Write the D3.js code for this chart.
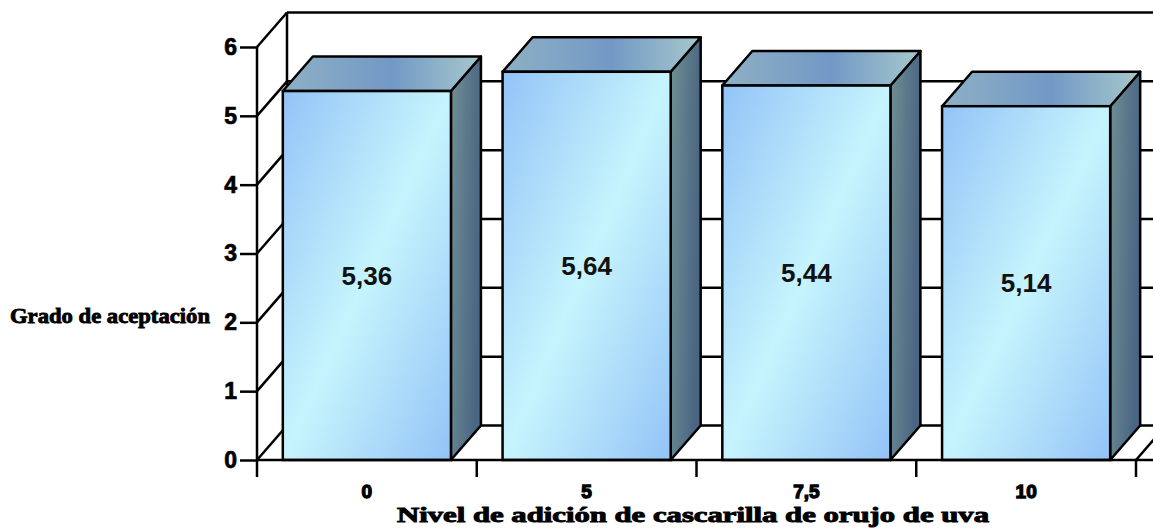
<!DOCTYPE html>
<html>
<head>
<meta charset="utf-8">
<script src="https://cdn.jsdelivr.net/npm/d3@7/dist/d3.min.js"></script>
<style>
  html, body { margin: 0; padding: 0; background: #fff; }
  svg { display: block; }
</style>
</head>
<body>
<svg id="chart" width="1153" height="529"></svg>
<script>
// Acceptance score by grape-pomace husk addition level
const categories = ["0", "5", "7,5", "10"];
const values = [5.36, 5.64, 5.44, 5.14];
const valueLabels = ["5,36", "5,64", "5,44", "5,14"];
const yTicks = [0, 1, 2, 3, 4, 5, 6];
const xTitle = "Nivel de adición de cascarilla de orujo de uva";
const yTitle = "Grado de aceptación";

const W = 1153, H = 529;
const svg = d3.select("#chart");

// 3D depth offset of the back wall
const DX = 30, DY = -34.5;
const left = 257, right = 1136;

const y = d3.scaleLinear().domain([0, 6]).range([460, 47]);
const x = d3.scaleBand().domain(categories).range([left, right])
  .paddingInner(0.235).paddingOuter(0.1175);
const slot = d3.scaleBand().domain(categories).range([left, right]).padding(0);

const defs = svg.append("defs");
function grad(id, x2, y2, stops) {
  const g = defs.append("linearGradient").attr("id", id)
    .attr("x1", 0).attr("y1", 0).attr("x2", x2).attr("y2", y2);
  stops.forEach(([o, c]) => g.append("stop").attr("offset", o).attr("stop-color", c));
}
grad("front", 1, 1, [[0, "#93c3f7"], [0.5, "#c6f4fd"], [1, "#93c3f7"]]);
grad("top", 1, 0, [[0, "#8eb0c4"], [0.55, "#7299c6"], [1, "#a6c8cb"]]);
grad("side", 1, 0.3, [[0, "#6f8f93"], [1, "#4a6483"]]);

const line = (x1, y1, x2, y2, w) => svg.append("line")
  .attr("x1", x1).attr("y1", y1).attr("x2", x2).attr("y2", y2)
  .attr("stroke", "#000").attr("stroke-width", w || 2.5);

// back wall: gridlines and left edge
const grid = svg.append("g");
yTicks.forEach(v => {
  grid.append("line").attr("x1", left + DX).attr("x2", W)
    .attr("y1", y(v) + DY).attr("y2", y(v) + DY)
    .attr("stroke", "#000").attr("stroke-width", 2.5);
  // side wall diagonals
  grid.append("line").attr("x1", left).attr("y1", y(v))
    .attr("x2", left + DX).attr("y2", y(v) + DY)
    .attr("stroke", "#000").attr("stroke-width", 2.5);
});
line(left + DX, y(6) + DY, left + DX, y(0) + DY);
// floor right edge
line(right, y(0), right + DX, y(0) + DY);

// bars
const bars = svg.append("g").selectAll("g").data(values).join("g");
bars.each(function (v, i) {
  const g = d3.select(this);
  const x0 = x(categories[i]), x1 = x0 + x.bandwidth();
  const yt = y(v), yb = y(0);
  g.append("path")
    .attr("d", `M${x1},${yt}L${x1 + DX},${yt + DY}L${x1 + DX},${yb + DY}L${x1},${yb}Z`)
    .attr("fill", "url(#side)").attr("stroke", "#000").attr("stroke-width", 2.5)
    .attr("stroke-linejoin", "round");
  g.append("path")
    .attr("d", `M${x0},${yt}L${x0 + DX},${yt + DY}L${x1 + DX},${yt + DY}L${x1},${yt}Z`)
    .attr("fill", "url(#top)").attr("stroke", "#000").attr("stroke-width", 2.5)
    .attr("stroke-linejoin", "round");
  g.append("rect")
    .attr("x", x0).attr("y", yt).attr("width", x1 - x0).attr("height", yb - yt)
    .attr("fill", "url(#front)").attr("stroke", "#000").attr("stroke-width", 2.5);
  g.append("text")
    .attr("x", (x0 + x1) / 2).attr("y", (yt + yb) / 2).attr("dy", "0.36em")
    .attr("text-anchor", "middle")
    .style("font-family", "'Liberation Sans', Arial, sans-serif")
    .style("font-weight", "bold").style("font-size", "26px")
    .attr("fill", "#111")
    .text(valueLabels[i]);
});

// front axes
const yAxis = svg.append("g").attr("transform", `translate(${left},0)`)
  .call(d3.axisLeft(y).tickValues(yTicks).tickSize(17).tickPadding(3).tickFormat(d3.format("d")));
const xAxis = svg.append("g").attr("transform", `translate(0,${y(0)})`)
  .call(d3.axisBottom(slot).tickSize(0).tickPadding(0));
[yAxis, xAxis].forEach(a => {
  a.select(".domain").remove();
  a.selectAll("line").attr("stroke", "#000").attr("stroke-width", 2.5);
});
yAxis.attr("font-size", 23).attr("font-family", "'Liberation Sans', Arial, sans-serif");
yAxis.selectAll("text")
  .attr("font-weight", "bold")
  .attr("fill", "#000").attr("stroke", "#000").attr("stroke-width", 0.7);
xAxis.attr("font-size", 19).attr("font-family", "'Liberation Sans', Arial, sans-serif");
xAxis.selectAll("text")
  .attr("y", 38).attr("dy", null)
  .attr("font-weight", "bold")
  .attr("fill", "#000").attr("stroke", "#000").attr("stroke-width", 1.3);

line(left, y(6), left, y(0));
line(left, y(0), W, y(0));
// x ticks at category boundaries
xAxis.selectAll(".bnd").data(categories.concat([null])).join("line")
  .attr("class", "bnd")
  .attr("x1", (d, i) => left + i * slot.step()).attr("x2", (d, i) => left + i * slot.step())
  .attr("y1", 0).attr("y2", 17).attr("stroke", "#000").attr("stroke-width", 2.5);

// axis titles
svg.append("text").attr("x", 693).attr("y", 522).attr("text-anchor", "middle")
  .style("font-family", "'Liberation Serif', 'Times New Roman', serif")
  .style("font-weight", "bold").style("font-size", "20px")
  .attr("stroke", "#000").attr("stroke-width", 0.9)
  .attr("textLength", 592).attr("lengthAdjust", "spacingAndGlyphs")
  .text(xTitle);
svg.append("text").attr("x", 10).attr("y", 323)
  .style("font-family", "'Liberation Serif', 'Times New Roman', serif")
  .style("font-weight", "bold").style("font-size", "22px")
  .attr("stroke", "#000").attr("stroke-width", 0.9)
  .attr("textLength", 200).attr("lengthAdjust", "spacingAndGlyphs")
  .text(yTitle);
</script>
</body>
</html>
